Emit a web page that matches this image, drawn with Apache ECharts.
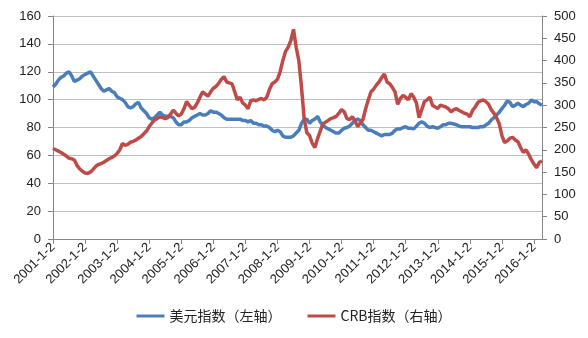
<!DOCTYPE html>
<html><head><meta charset="utf-8">
<script src="https://cdn.jsdelivr.net/npm/echarts@6/dist/echarts.min.js"></script>
<style>html,body{margin:0;padding:0;background:#fff}#c{width:588px;height:338px}</style>
</head><body><div id="c"></div>
<script>
// Tick labels on the x axis (one per year)
const yearLabels = ['2001-1-2','2002-1-2','2003-1-2','2004-1-2','2005-1-2','2006-1-2','2007-1-2','2008-1-2','2009-1-2','2010-1-2','2011-1-2','2012-1-2','2013-1-2','2014-1-2','2015-1-2','2016-1-2'];
// Monthly samples, Jan 2001 .. Apr 2016
const usdIndex = [
 109,111,114,116,117,119,120,117,113,114,115,117,
 118,119,120,117,114,111,108,106,107,108,106,105,
 102,101,100,98,95,94,95,97,98,94,92,90,
 87,86,87,89,91,89,88,88,88,87,84,82,
 82,84,84,85,87,88,89,90,89,89,90,92,
 91,91,90,89,87,86,86,86,86,86,86,85,
 85,84,85,83,83,82,82,81,81,80,78,77,
 78,77,74,73,73,73,74,76,78,83,86,86,
 83,85,86,88,84,82,80,79,78,77,76,76,
 78,79.5,80,81,83,85,86,85,82,80,78,78,
 77,76,75,74,75,75,75,76,78,79,79,80,
 80.6,79.5,79.5,79,81,83,84,83,81,80,80.5,80,
 79.5,80.5,82,82,83,83,82.5,82,81,80.5,80.5,80.5,
 80.5,80,80,80,80.5,80.5,81.8,83,85.4,87,89,91,
 93.5,96,99,98,95,96,97.4,96,95,96.5,97.4,99.7,
 98.5,98.5,97,96
];
const crbIndex = [
 203,200,197,194,190,186,181,180,177,165,157,152,
 148,147,150,156,163,167,169,172,176,180,183,186,
 192,200,214,210,212,217,219,222,226,230,236,242,
 252,260,267,270,274,272,270,272,280,289,282,276,
 280,292,308,300,292,295,305,318,330,325,320,330,
 338,342,349,358,364,352,350,348,330,312,318,305,
 300,292,310,312,310,313,315,312,318,335,348,352,
 358,375,400,420,430,445,470,430,400,340,270,238,
 232,215,205,225,242,258,262,266,270,272,275,282,
 290,285,270,268,274,265,252,260,268,292,312,330,
 336,345,352,362,370,352,348,340,330,302,315,322,
 318,312,326,318,305,272,290,308,312,318,300,296,
 293,300,298,296,292,285,290,292,288,285,282,280,
 274,288,296,306,310,312,308,302,290,282,272,258,
 232,216,220,226,228,222,218,205,194,200,190,178,
 168,160,172,175
];
const seriesNames = ['美元指数（左轴）','CRB指数（右轴）'];

const categories = [];
for (let i = 0; i < usdIndex.length; i++) {
  const y = 2001 + Math.floor(i / 12), m = i % 12 + 1;
  categories.push(m === 1 ? yearLabels[y - 2001] : y + '-' + m + '-1');
}
const font = 'Liberation Sans, Arial, sans-serif';
const chart = echarts.init(document.getElementById('c'), null, {renderer: 'canvas'});
chart.setOption({
  animation: false,
  backgroundColor: '#fff',
  grid: {left: 53, right: 46, top: 16, bottom: 99, containLabel: false},
  legend: {
    bottom: 10, left: 'center', itemWidth: 28, itemHeight: 3, itemGap: 26,
    icon: 'rect',
    textStyle: {fontSize: 14, color: '#222', fontFamily: 'Noto Sans CJK SC, sans-serif'},
    data: seriesNames
  },
  xAxis: {
    type: 'category', data: categories, boundaryGap: false,
    axisLine: {lineStyle: {color: '#868686'}},
    axisTick: {interval: (i) => i % 12 === 0, length: 5, lineStyle: {color: '#868686'}},
    axisLabel: {interval: (i) => i % 12 === 0, rotate: 45, fontSize: 13, color: '#222', fontFamily: font, margin: 6},
    splitLine: {show: false}
  },
  yAxis: [
    {type: 'value', min: 0, max: 160, interval: 20,
     axisLine: {show: true, lineStyle: {color: '#868686'}},
     axisTick: {show: true, length: 5, lineStyle: {color: '#868686'}},
     axisLabel: {fontSize: 13, color: '#222', fontFamily: font, margin: 12},
     splitLine: {lineStyle: {color: '#bdbdbd', width: 1}}},
    {type: 'value', min: 0, max: 500, interval: 50, position: 'right',
     axisLine: {show: true, lineStyle: {color: '#868686'}},
     axisTick: {show: true, length: 5, lineStyle: {color: '#868686'}},
     axisLabel: {fontSize: 13, color: '#222', fontFamily: font, margin: 12},
     splitLine: {show: false}}
  ],
  series: [
    {name: seriesNames[0], type: 'line', yAxisIndex: 0, data: usdIndex, showSymbol: false,
     lineStyle: {width: 3.5, color: '#4a7ebb'}, itemStyle: {color: '#4a7ebb'}},
    {name: seriesNames[1], type: 'line', yAxisIndex: 1, data: crbIndex, showSymbol: false,
     lineStyle: {width: 3.5, color: '#be4b48'}, itemStyle: {color: '#be4b48'}}
  ]
});
</script></body></html>
